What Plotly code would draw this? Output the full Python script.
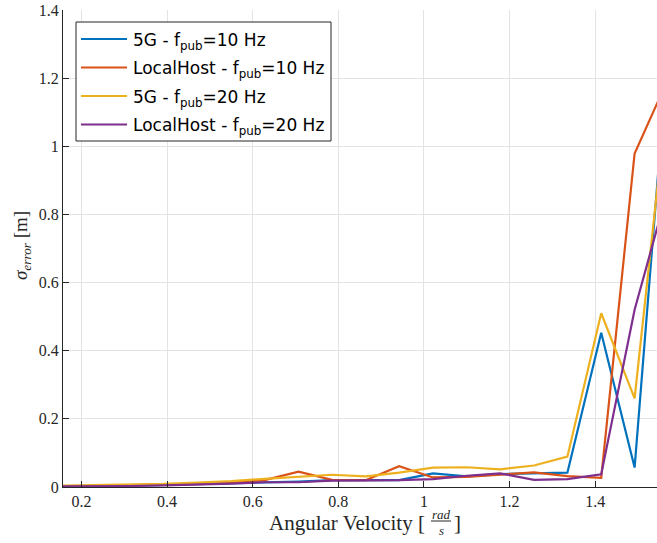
import plotly.graph_objects as go

# Angular velocity sweep (rad/s)
omega = [0.157, 0.236, 0.314, 0.393, 0.471, 0.550, 0.628, 0.707, 0.785, 0.864,
         0.942, 1.021, 1.100, 1.178, 1.257, 1.335, 1.414, 1.492, 1.571]

# Standard deviation of the position error (m)
sigma_5g_10 = [0.003, 0.003, 0.004, 0.006, 0.008, 0.011, 0.014, 0.016, 0.020, 0.020,
               0.020, 0.040, 0.031, 0.038, 0.041, 0.042, 0.453, 0.057, 1.300]
sigma_lh_10 = [0.002, 0.003, 0.005, 0.007, 0.008, 0.012, 0.020, 0.045, 0.021, 0.020,
               0.061, 0.028, 0.030, 0.036, 0.043, 0.032, 0.027, 0.979, 1.200]
sigma_5g_20 = [0.004, 0.005, 0.006, 0.009, 0.013, 0.017, 0.024, 0.030, 0.036, 0.031,
               0.042, 0.057, 0.058, 0.052, 0.063, 0.089, 0.510, 0.260, 1.180]
sigma_lh_20 = [0.002, 0.002, 0.003, 0.005, 0.007, 0.010, 0.014, 0.014, 0.019, 0.019,
               0.020, 0.023, 0.033, 0.040, 0.021, 0.023, 0.037, 0.520, 0.880]

series = [
    ("5G - f<sub>pub</sub>=10 Hz", sigma_5g_10, "#0072BD"),
    ("LocalHost - f<sub>pub</sub>=10 Hz", sigma_lh_10, "#D95319"),
    ("5G - f<sub>pub</sub>=20 Hz", sigma_5g_20, "#EDB120"),
    ("LocalHost - f<sub>pub</sub>=20 Hz", sigma_lh_20, "#7E2F8E"),
]

x_ticks = [0.2, 0.4, 0.6, 0.8, 1.0, 1.2, 1.4]
x_tick_text = ["0.2", "0.4", "0.6", "0.8", "1", "1.2", "1.4"]
y_ticks = [0, 0.2, 0.4, 0.6, 0.8, 1.0, 1.2, 1.4]
y_tick_text = ["0", "0.2", "0.4", "0.6", "0.8", "1", "1.2", "1.4"]

# Plot-area geometry in pixels (used to place the legend and axis labels)
W, H = 657, 543
L, R, T, B = 63, 0, 10, 56
PW, PH = W - L - R, H - T - B


def px(x):
    return (x - L) / PW


def py(y):
    return (H - B - y) / PH


fig = go.Figure()
for name, vals, color in series:
    fig.add_trace(go.Scatter(x=omega, y=vals, mode="lines", name=name,
                             line=dict(color=color, width=2.2),
                             showlegend=False))

serif = "Liberation Serif"
axis_common = dict(
    showline=True, linecolor="#262626", linewidth=1,
    ticks="inside", ticklen=6, tickcolor="#262626",
    showgrid=True, gridcolor="#e3e3e3", gridwidth=1,
    zeroline=False, mirror=False,
    tickfont=dict(family=serif, size=16, color="#262626"),
)

fig.update_layout(
    width=W, height=H,
    margin=dict(l=L, r=R, t=T, b=B),
    paper_bgcolor="white", plot_bgcolor="white",
    xaxis=dict(range=[0.157, 1.5443], tickvals=x_ticks, ticktext=x_tick_text,
               **axis_common),
    yaxis=dict(range=[0, 1.4], tickvals=y_ticks, ticktext=y_tick_text,
               **axis_common),
)

# Legend box with line samples and labels
fig.add_shape(type="rect", xref="paper", yref="paper",
              x0=px(76), x1=px(331), y0=py(141), y1=py(22),
              line=dict(color="#262626", width=1), fillcolor="white",
              layer="above")
legend_rows = [39, 67.5, 96, 124.5]
for (name, _, color), ry in zip(series, legend_rows):
    fig.add_shape(type="line", xref="paper", yref="paper",
                  x0=px(81), x1=px(127), y0=py(ry), y1=py(ry),
                  line=dict(color=color, width=2.2), layer="above")
    fig.add_annotation(xref="paper", yref="paper", x=px(131), y=py(ry + 2),
                       text=name, showarrow=False,
                       font=dict(family="DejaVu Sans", size=17, color="#000000"),
                       xanchor="left", yanchor="middle")

# Axis labels
fig.add_annotation(
    xref="paper", yref="paper", x=px(22), y=py(246),
    text="<i>σ<sub>error</sub></i> [m]", textangle=-90, showarrow=False,
    font=dict(family=serif, size=19, color="#262626"),
    xanchor="center", yanchor="middle",
)
fig.add_annotation(
    xref="paper", yref="paper", x=px(427), y=py(523),
    text="Angular Velocity [", showarrow=False,
    font=dict(family=serif, size=21, color="#262626"),
    xanchor="right", yanchor="middle",
)
fig.add_annotation(
    xref="paper", yref="paper", x=px(441), y=py(514),
    text="<i>rad</i>", showarrow=False,
    font=dict(family=serif, size=13, color="#262626"),
    xanchor="center", yanchor="middle",
)
fig.add_annotation(
    xref="paper", yref="paper", x=px(441), y=py(530),
    text="<i>s</i>", showarrow=False,
    font=dict(family=serif, size=13, color="#262626"),
    xanchor="center", yanchor="middle",
)
fig.add_annotation(
    xref="paper", yref="paper", x=px(452), y=py(523),
    text="]", showarrow=False,
    font=dict(family=serif, size=21, color="#262626"),
    xanchor="left", yanchor="middle",
)
fig.add_shape(
    type="line", xref="paper", yref="paper",
    x0=px(431), x1=px(451), y0=py(521), y1=py(521),
    line=dict(color="#262626", width=1),
)

fig.write_html("out.html")
